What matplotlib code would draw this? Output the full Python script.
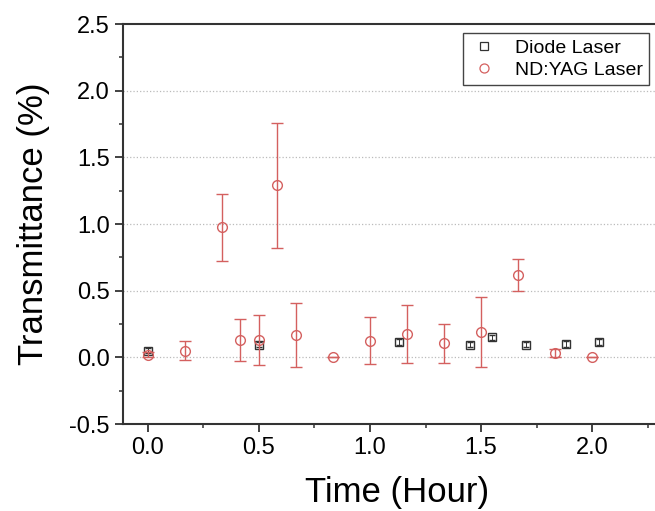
import matplotlib
matplotlib.use("Agg")
import matplotlib.pyplot as plt
from matplotlib.ticker import MultipleLocator, FormatStrFormatter
from matplotlib.lines import Line2D

plt.rcParams['font.family'] = ['Liberation Sans', 'DejaVu Sans']

# ND:YAG laser (circles, with error bars)
yag_time = [0.0, 0.167, 0.333, 0.417, 0.5, 0.583, 0.667, 0.833, 1.0, 1.167, 1.333, 1.5, 1.667, 1.833, 2.0]
yag_trans = [0.02, 0.05, 0.975, 0.13, 0.13, 1.29, 0.17, 0.0, 0.125, 0.175, 0.105, 0.19, 0.615, 0.03, 0.0]
yag_err = [0.02, 0.07, 0.25, 0.16, 0.19, 0.47, 0.24, 0.0, 0.175, 0.22, 0.145, 0.265, 0.12, 0.03, 0.0]

# Diode laser (squares)
diode_time = [0.0, 0.5, 1.13, 1.45, 1.55, 1.70, 1.88, 2.03]
diode_trans = [0.05, 0.095, 0.115, 0.095, 0.15, 0.095, 0.10, 0.115]
diode_err = [0.02, 0.02, 0.02, 0.02, 0.02, 0.02, 0.02, 0.02]

red = '#d4605f'
dark = '#333333'

fig = plt.figure(figsize=(6.55, 5.11), dpi=100)
ax = fig.add_axes([0.188, 0.170, 0.835, 0.783])

for y in [0.0, 0.5, 1.0, 1.5, 2.0]:
    ax.axhline(y, color='#bbbbbb', linestyle=':', linewidth=0.9, zorder=0)

ax.errorbar(diode_time, diode_trans, yerr=diode_err, fmt='s', mfc='none', mec=dark,
            ecolor=dark, markersize=5.5, capsize=2.5, elinewidth=0.7, mew=1.0, zorder=3)
ax.errorbar(yag_time, yag_trans, yerr=yag_err, fmt='o', mfc='none', mec=red,
            ecolor=red, markersize=7, capsize=4, elinewidth=1.0, mew=1.0, zorder=4)

ax.set_xlim(-0.11, 2.35)
ax.set_ylim(-0.5, 2.5)
ax.xaxis.set_major_locator(MultipleLocator(0.5))
ax.xaxis.set_minor_locator(MultipleLocator(0.25))
ax.yaxis.set_major_locator(MultipleLocator(0.5))
ax.yaxis.set_minor_locator(MultipleLocator(0.25))
ax.xaxis.set_major_formatter(FormatStrFormatter('%.1f'))
ax.yaxis.set_major_formatter(FormatStrFormatter('%.1f'))
ax.tick_params(which='major', direction='out', length=5.5, width=1.3, labelsize=17, pad=4,
               color=dark)
ax.tick_params(which='minor', direction='out', length=3, width=1.1, color=dark)
ax.tick_params(axis='x', which='both', top=False)
ax.tick_params(axis='y', which='both', right=False)
for s in ax.spines.values():
    s.set_linewidth(1.5)
    s.set_color(dark)

ax.set_xlabel('Time (Hour)', fontsize=25, labelpad=12)
ax.set_ylabel('Transmittance (%)', fontsize=25, labelpad=14)

handles = [
    Line2D([], [], linestyle='none', marker='s', mfc='none', mec=dark, markersize=6, mew=0.9),
    Line2D([], [], linestyle='none', marker='o', mfc='none', mec=red, markersize=6.5, mew=0.9),
]
leg = ax.legend(handles, ['Diode Laser', 'ND:YAG Laser'], loc='upper right',
                bbox_to_anchor=(0.962, 0.977), fontsize=14, fancybox=False,
                edgecolor='#444444', framealpha=1, handletextpad=0.8, handlelength=1.6,
                borderpad=0.3, labelspacing=0.25, borderaxespad=0)
leg.get_frame().set_linewidth(1.0)

fig.savefig('out.png', dpi=100)
